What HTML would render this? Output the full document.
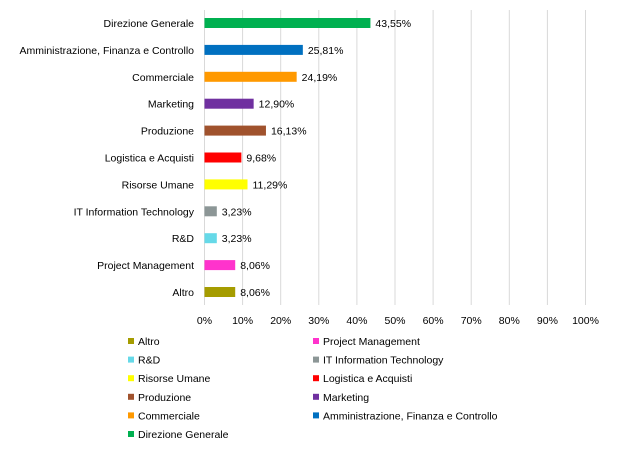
<!DOCTYPE html>
<html><head><meta charset="utf-8"><style>
body{margin:0;background:#fff;}
svg{display:block;font-family:"Liberation Sans",sans-serif;}
</style></head><body>
<svg id="chart" width="618" height="467" viewBox="0 0 618 467"></svg>
<script>
const categories=["Direzione Generale","Amministrazione, Finanza e Controllo","Commerciale","Marketing","Produzione","Logistica e Acquisti","Risorse Umane","IT Information Technology","R&D","Project Management","Altro"];
const values=[43.55,25.81,24.19,12.90,16.13,9.68,11.29,3.23,3.23,8.06,8.06];
const colors=["#00b050","#0070c0","#ff9900","#7030a0","#a0522d","#ff0000","#ffff00","#8c9696","#66d9e8","#ff33cc","#a59c00"];
const ticks=[0,10,20,30,40,50,60,70,80,90,100];
const legendOrder=[10,9,8,7,6,5,4,3,2,1,0];
const NS="http://www.w3.org/2000/svg";
const svg=document.getElementById('chart');
const x0=204.5,x1=585.5,top0=10,rowH=26.9,firstY=23,FS=10.5;
const xs=v=>x0+(x1-x0)*v/100;
const ys=i=>firstY+i*rowH;
function mk(t,a,p){const e=document.createElementNS(NS,t);for(const k in a)e.setAttribute(k,a[k]);(p||svg).appendChild(e);return e;}
ticks.forEach((t,i)=>{
 const l=mk('line',{x1:xs(t),x2:xs(t),y1:top0,y2:305,stroke:'#d9d9d9','stroke-width':1});
 
 
 const tx=mk('text',{x:xs(t),y:324,'text-anchor':'middle','font-size':FS,fill:'#000'});
 tx.textContent=t+'%';
 
 
});
categories.forEach((c,i)=>{
 const y=ys(i);
 const lb=mk('text',{x:194,y:y+4,'text-anchor':'end','font-size':FS,fill:'#000'});
 lb.textContent=c;
 
 
 const r=mk('rect',{x:x0,y:y-5,width:xs(values[i])-x0,height:10,fill:colors[i]});
 
 
 const v=mk('text',{x:xs(values[i])+5,y:y+4,'font-size':FS,fill:'#000'});
 v.textContent=values[i].toFixed(2).replace('.',',')+'%';
 
 
});
legendOrder.forEach((ci,k)=>{
 const col=k%2, row=Math.floor(k/2);
 const lx=col?313:128, ly=341+row*18.6;
 const g=mk('g',{});
 
 
 mk('rect',{x:lx,y:ly-3,width:6,height:6,fill:colors[ci]},g);
 const t=mk('text',{x:lx+10,y:ly+4,'font-size':FS,fill:'#000'},g);
 t.textContent=categories[ci];
});
</script>
</body></html>
